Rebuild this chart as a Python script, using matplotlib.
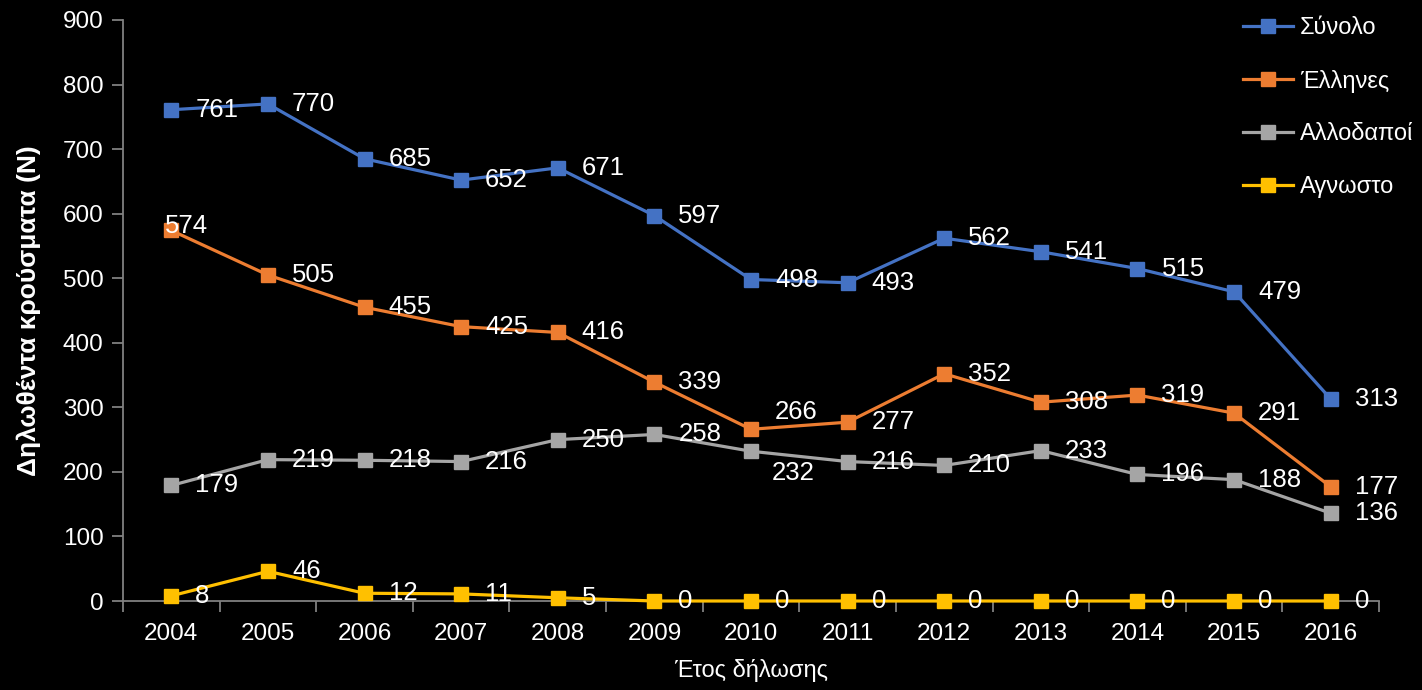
import matplotlib
matplotlib.use("Agg")
import matplotlib.pyplot as plt
import numpy as np

years = ["2004", "2005", "2006", "2007", "2008", "2009", "2010",
         "2011", "2012", "2013", "2014", "2015", "2016"]
synolo = [761, 770, 685, 652, 671, 597, 498, 493, 562, 541, 515, 479, 313]
ellines = [574, 505, 455, 425, 416, 339, 266, 277, 352, 308, 319, 291, 177]
allodapoi = [179, 219, 218, 216, 250, 258, 232, 216, 210, 233, 196, 188, 136]
agnosto = [8, 46, 12, 11, 5, 0, 0, 0, 0, 0, 0, 0, 0]

series_names = ["Σύνολο", "Έλληνες", "Αλλοδαποί", "Αγνωστο"]
series_values = [synolo, ellines, allodapoi, agnosto]
series_colors = ["#4472C4", "#ED7D31", "#A5A5A5", "#FFC000"]

# per-label pixel offsets (dx, dy) where the default right-side placement is changed
label_offsets = {
    (1, 0): (-6, 4),
    (1, 6): (24, 17),
    (2, 6): (21, -22),
}
default_offset = (24, 0)

plt.rcParams["font.family"] = ["Liberation Sans", "DejaVu Sans"]

fig = plt.figure(figsize=(14.22, 6.90), dpi=100, facecolor="black")
ax = fig.add_axes([123 / 1422, 89 / 690, (1379 - 123) / 1422, (601 - 20) / 690])
ax.set_facecolor("black")

x = np.arange(len(years))
handles = []
for s, (name, vals, col) in enumerate(zip(series_names, series_values, series_colors)):
    h, = ax.plot(x, vals, color=col, lw=2.3, marker="s", markersize=10.5,
                 markeredgecolor=col, label=name, zorder=3, clip_on=False)
    handles.append(h)
    for i, v in enumerate(vals):
        dx, dy = label_offsets.get((s, i), default_offset)
        ax.annotate(str(v), (x[i], v), xytext=(dx, dy), textcoords="offset pixels",
                    ha="left", va="center", color="white", fontsize=18.5, zorder=4)

ax.set_xlim(-0.5, len(years) - 0.5)
ax.set_ylim(0, 900)
ax.set_yticks(np.arange(0, 901, 100))
ax.set_xticks(x)
ax.set_xticklabels(years)
ax.set_xticks(np.arange(-0.5, len(years), 1), minor=True)

for side in ["top", "right"]:
    ax.spines[side].set_visible(False)
for side in ["left", "bottom"]:
    ax.spines[side].set_color("#808080")
    ax.spines[side].set_linewidth(1.3)

ax.tick_params(axis="y", colors="#808080", labelcolor="white", labelsize=17.5,
               length=8, width=1.3, direction="out", pad=6)
ax.tick_params(axis="x", which="major", length=0, labelcolor="white",
               labelsize=17.5, pad=16)
ax.tick_params(axis="x", which="minor", colors="#808080", length=8, width=1.3,
               direction="out")

ax.set_ylabel("Δηλωθέντα κρούσματα (N)", color="white", fontsize=19,
              fontweight="bold", labelpad=16)
ax.set_xlabel("Έτος δήλωσης", color="white", fontsize=17, labelpad=10)

leg = fig.legend(handles=handles, loc="upper left", bbox_to_anchor=(1243 / 1422, 1 - 17 / 690),
                 frameon=False, fontsize=17, labelcolor="white", labelspacing=1.3,
                 handlelength=2.1, handletextpad=0.3, borderaxespad=0, borderpad=0)

fig.savefig("out.png", dpi=100, facecolor="black")
